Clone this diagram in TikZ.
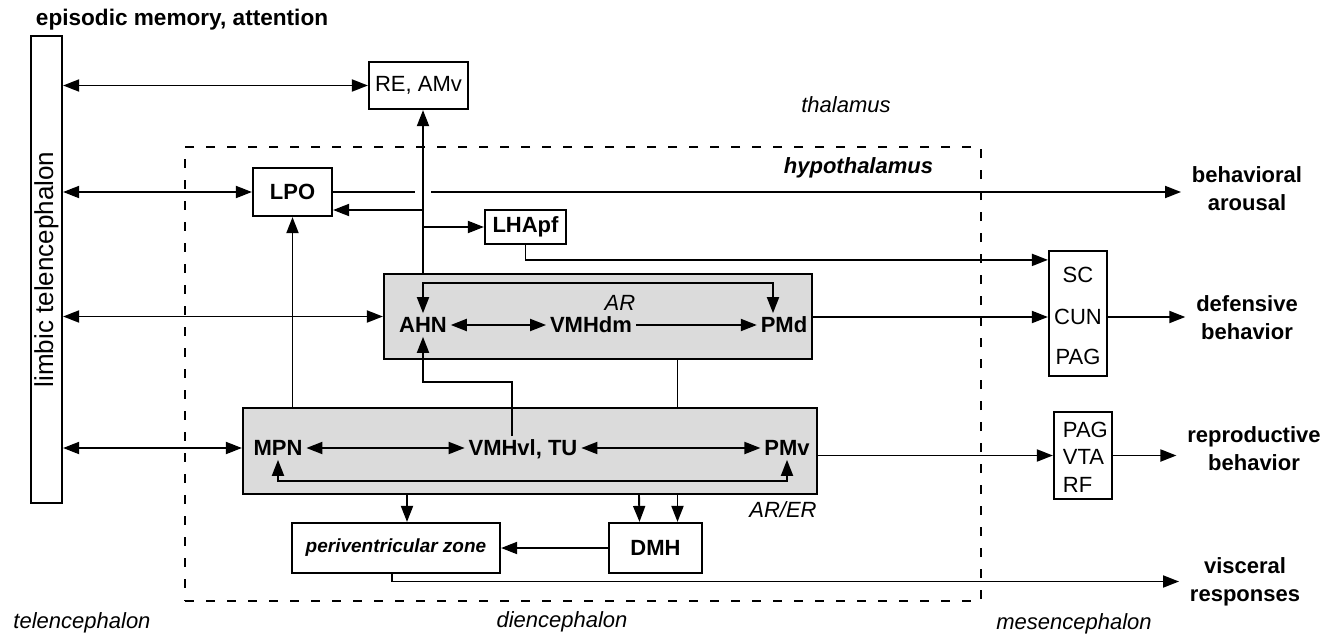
\documentclass[tikz,border=0pt]{standalone}
\usepackage{fontspec}
\setmainfont{Liberation Sans}
\usetikzlibrary{arrows.meta,positioning,calc}
\tikzset{
    >={Triangle[length=16pt,width=12pt]},
    every picture/.style={line width=1.9pt},
    box/.style={draw,line width=2.2pt,inner sep=0pt},
    graybox/.style={draw,line width=2.2pt,fill=black!14,inner sep=0pt},
    nucleus/.style={font=\bfseries,inner sep=3pt,text height=15.8pt,text depth=0pt},
    output/.style={font=\bfseries,align=center,inner sep=10pt},
    region/.style={font=\itshape,inner sep=0pt}
}

\begin{document}
\fontsize{22}{28}\selectfont
\begin{tikzpicture}[x=1pt,y=-1pt]
    \useasboundingbox (0,0) rectangle (1338,634);

    % regions
    \node[draw,dash pattern=on 9pt off 12pt,minimum width=796pt,minimum height=454pt] (hypo) at (583,374) {};
    \node[font=\fontsize{22.6}{28}\selectfont\bfseries,anchor=west,inner sep=0pt] (episodic) at (35,20) {episodic memory, attention};
    \node[region] (thal) at (846,105) {thalamus};
    \node[region,font=\bfseries\itshape,anchor=east] (hyp) at (934,168) {hypothalamus};
    \node[region] (tel) at (82,623) {telencephalon};
    \node[region] (dien) at (562,622) {diencephalon};
    \node[region] (mesen) at (1074,624) {mesencephalon};

    % limbic telencephalon
    \node[box,minimum width=31pt,minimum height=467pt] (limbic) at (46.5,269.5) {};
    \node[rotate=90,font=\fontsize{26}{28}\selectfont] at (limbic.center) {limbic telencephalon};

    % thalamus and hypothalamus
    \node[box,minimum width=99pt,minimum height=47pt] (re) at (418.5,85.5) {RE, AMv};
    \node[box,minimum width=79pt,minimum height=48pt,font=\bfseries] (lpo) at (292.5,192) {LPO};
    \node[box,minimum width=81pt,minimum height=34pt,font=\bfseries] (lhapf) at (525.5,227) {LHApf};

    \node[graybox,minimum width=428pt,minimum height=85pt] (upper) at (598,316.5) {};
    \node[nucleus] (ahn) at (423,325) {AHN};
    \node[nucleus] (vmhdm) at (591,325) {VMHdm};
    \node[nucleus] (pmd) at (784,325) {PMd};
    \node[region] (ar) at (620,303) {AR};

    \node[graybox,minimum width=574pt,minimum height=86pt] (lower) at (530,451) {};
    \node[nucleus] (mpn) at (278,448) {MPN};
    \node[nucleus] (vmhvl) at (523,448) {VMHvl, TU};
    \node[nucleus] (pmv) at (787,448) {PMv};
    \node[region] (arer) at (783,510) {AR/ER};

    \node[box,minimum width=208pt,minimum height=50pt,font=\fontsize{19}{22}\selectfont\bfseries\itshape] (periv) at (396,548) {periventricular zone};
    \node[box,minimum width=93pt,minimum height=50pt,font=\bfseries] (dmh) at (655.5,548) {DMH};

    % mesencephalon
    \node[box,minimum width=58pt,minimum height=125pt] (midA) at (1078,313.5) {};
    \node[inner sep=0pt] (sc) at (1078,275) {SC};
    \node[inner sep=0pt] (cun) at (1078,317) {CUN};
    \node[inner sep=0pt] (pag) at (1078,357) {PAG};
    \node[box,minimum width=58pt,minimum height=87pt] (midB) at (1083,455.5) {};
    \node[align=left,anchor=west,inner sep=0pt,font=\fontsize{22}{27.5}\selectfont] (vta) at (1062,457) {PAG\\VTA\\RF};

    % outputs
    \node[output] (arousal) at (1247,188.5) {behavioral\\arousal};
    \node[output] (defense) at (1247,317.5) {defensive\\behavior};
    \node[output] (repro) at (1254,449) {reproductive\\behavior};
    \node[output] (visc) at (1245,581.5) {visceral\\responses};

    % limbic connections
    \draw[<->] (limbic.east |- re.west) -- (re.west);
    \draw[<->] (limbic.east |- lpo.west) -- (lpo.west);
    \draw[<->] (limbic.east |- upper.west) -- (upper.west);
    \draw[<->] (limbic.east |- mpn) -- (lower.west |- mpn);

    % ascending trunk
    \draw[->] (upper.north -| ahn) -- (re.south -| ahn);
    \draw[->] (ahn |- 0,210) -- (lpo.east |- 0,210);
    \draw[->] (lhapf.west -| ahn) -- (lhapf.west);
    \coordinate (cross) at (lpo.east -| ahn);
    \draw (lpo.east) -- ([xshift=-8pt]cross);
    \draw[->] ([xshift=8pt]cross) -- (arousal.west |- lpo.east);
    \draw[->] (lhapf.south) |- ([yshift=-10pt]midA.north west);

    % upper column
    \draw[<->] (ahn.north) -- ++(0,-30) -| ([xshift=-11pt]pmd.north);
    \draw[<->] (ahn.east) -- (vmhdm.west);
    \draw[->] (vmhdm.east) -- (pmd.west);
    \draw[->] ([xshift=-11pt]vmhvl.north) |- (ahn.south |- 0,382) -- (ahn.south);
    \draw[->] (upper.east |- cun) -- (midA.west |- cun);
    \draw[->] (midA.east |- cun) -- (defense.west |- cun);

    % lower column
    \coordinate (dmhR) at ([xshift=22pt]dmh.north);
    \draw (upper.south -| dmhR) -- (lower.north -| dmhR);
    \draw[->] (lower.north -| lpo.south) -- (lpo.south);
    \draw[<->] (mpn.east) -- (vmhvl.west);
    \draw[<->] (vmhvl.east) -- (pmv.west);
    \draw[<->] (mpn.south) |- (pmv.south |- 0,481) -- (pmv.south);
    \draw[->] (lower.east |- midB.west) -- (midB.west);
    \draw[->] (midB.east) -- (repro.west |- midB.east);

    % periventricular output
    \draw[->] (lower.south -| 407,0) -- ([xshift=11pt]periv.north);
    \draw[->] (lower.south -| 639,0) -- ([xshift=-16pt]dmh.north);
    \draw[->] (lower.south -| dmhR) -- (dmhR);
    \draw[->] (dmh.west) -- (periv.east);
    \draw[->] ([xshift=-4pt]periv.south) |- (visc.west);
\end{tikzpicture}
\end{document}
